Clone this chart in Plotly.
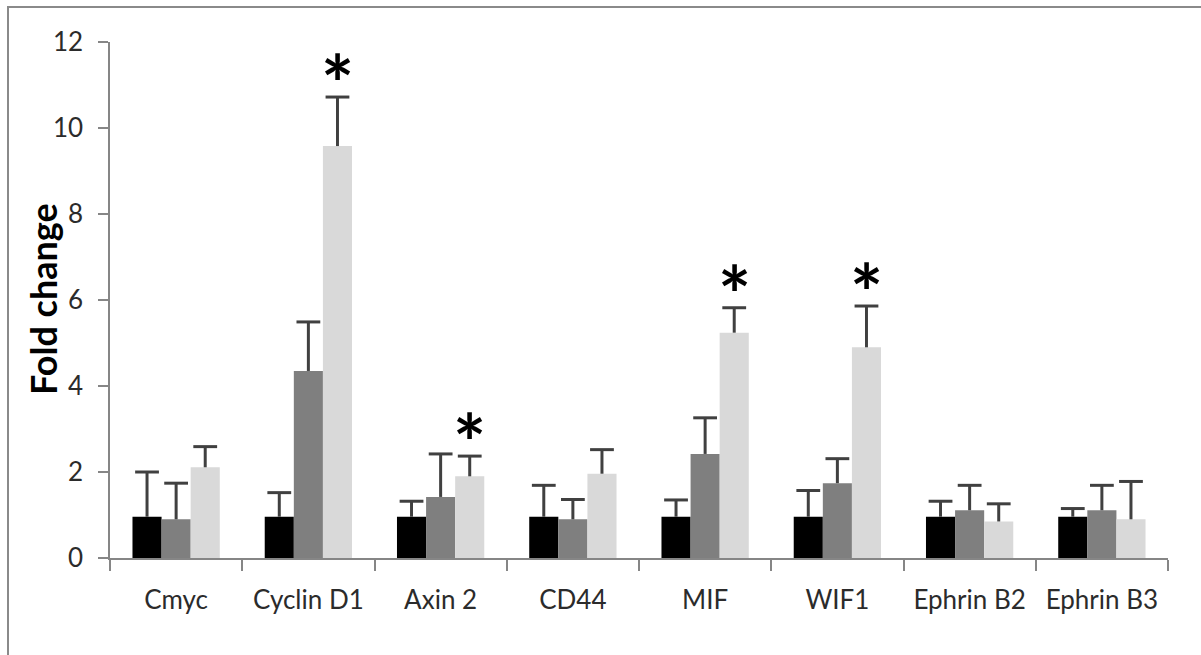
import plotly.graph_objects as go

categories = ["Cmyc", "Cyclin D1", "Axin 2", "CD44", "MIF", "WIF1", "Ephrin B2", "Ephrin B3"]
series_names = ["Control", "Group 2", "Group 3"]
values_black = [0.96, 0.96, 0.96, 0.96, 0.96, 0.96, 0.96, 0.96]
errors_black = [1.04, 0.56, 0.36, 0.73, 0.39, 0.61, 0.36, 0.19]
values_gray = [0.90, 4.35, 1.42, 0.90, 2.42, 1.74, 1.11, 1.11]
errors_gray = [0.84, 1.14, 1.00, 0.46, 0.84, 0.57, 0.58, 0.58]
values_light = [2.11, 9.58, 1.90, 1.96, 5.24, 4.90, 0.85, 0.90]
errors_light = [0.48, 1.14, 0.47, 0.56, 0.58, 0.96, 0.41, 0.88]
significant_light = [False, True, True, False, True, True, False, False]
y_ticks = [0, 2, 4, 6, 8, 10, 12]
y_title = "Fold change"

colors = ["#000000", "#7f7f7f", "#d9d9d9"]
err_color = "#404040"
FONT = "Lato"
W, H = 1201, 655
ML, MR, MT, MB = 110, 33, 42, 97
BARGAP = 0.34

idx = list(range(len(categories)))
all_vals = [values_black, values_gray, values_light]
all_errs = [errors_black, errors_gray, errors_light]
bar_w = (1 - BARGAP) / 3

fig = go.Figure()
for k in range(3):
    fig.add_trace(go.Bar(x=idx, y=all_vals[k], name=series_names[k],
                         marker=dict(color=colors[k], line=dict(width=0)),
                         showlegend=False))

for k in range(3):
    xs = [i + (k - 1) * bar_w for i in idx]
    tops = [v + e for v, e in zip(all_vals[k], all_errs[k])]
    fig.add_trace(go.Scatter(x=xs, y=all_vals[k], mode="markers",
                             marker=dict(size=1, opacity=0),
                             error_y=dict(type="data", array=all_errs[k],
                                          arrayminus=[0] * len(idx), width=0,
                                          thickness=3, color=err_color),
                             showlegend=False, hoverinfo="skip"))
    fig.add_trace(go.Scatter(x=xs, y=tops, mode="markers",
                             marker=dict(symbol="line-ew", size=17,
                                         line=dict(width=3, color=err_color)),
                             showlegend=False, hoverinfo="skip"))

for i, sig in enumerate(significant_light):
    if sig:
        fig.add_annotation(x=i + bar_w, y=values_light[i] + errors_light[i],
                           text="<b>*</b>", showarrow=False, yanchor="middle",
                           yshift=14, font=dict(family=FONT, size=78, color="#000000"))

pw, ph = W - ML - MR, H - MT - MB
def px_x(p):
    return (p - ML) / pw
def px_y(p):
    return (H - MB - p) / ph

# y-axis title
fig.add_annotation(xref="paper", yref="paper", x=px_x(43), y=px_y(299),
                   text="<b>" + y_title + "</b>", textangle=-90, showarrow=False,
                   xanchor="center", yanchor="middle",
                   font=dict(family=FONT, size=36, color="#000000"))

# outer border
fig.add_shape(type="rect", xref="paper", yref="paper",
              x0=px_x(8), x1=px_x(1206), y0=px_y(662), y1=px_y(7),
              line=dict(color="#8a8a8a", width=2), fillcolor="rgba(0,0,0,0)",
              layer="below")

fig.update_layout(
    width=W, height=H,
    margin=dict(l=ML, r=MR, t=MT, b=MB),
    plot_bgcolor="white", paper_bgcolor="white",
    barmode="group", bargap=BARGAP, bargroupgap=0,
    font=dict(family=FONT, color="#333333"),
)
fig.update_xaxes(range=[-0.5, len(categories) - 0.5], tickmode="array",
                 tickvals=idx, ticktext=categories, ticks="",
                 showline=True, linecolor="#868686", linewidth=1.5,
                 showgrid=False, zeroline=False,
                 tickfont=dict(family=FONT, size=26, color="#2b2b2b"),
                 ticklabelstandoff=18,
                 minor=dict(tickmode="array",
                            tickvals=[i - 0.5 for i in range(len(categories) + 1)],
                            ticks="outside", ticklen=11, tickwidth=1.5,
                            tickcolor="#868686", showgrid=False))
fig.update_yaxes(range=[0, 12], tickmode="array", tickvals=y_ticks,
                 ticks="outside", ticklen=10, tickwidth=1.5, tickcolor="#868686",
                 showline=True, linecolor="#868686", linewidth=1.5,
                 showgrid=False, zeroline=False,
                 tickfont=dict(family=FONT, size=26, color="#2b2b2b"),
                 ticklabelstandoff=10)

fig.write_html("out.html")
